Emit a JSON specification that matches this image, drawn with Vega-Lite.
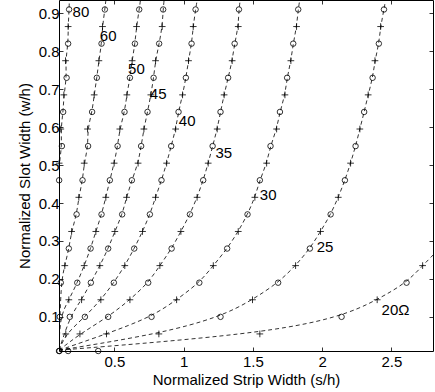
{
  "$schema": "https://vega.github.io/schema/vega-lite/v6.json",
  "width": 374,
  "height": 351,
  "autosize": "none",
  "padding": {"left": 59, "top": 0, "right": 2, "bottom": 41},
  "background": "white",
  "config": {
    "view": {"stroke": "#000", "strokeWidth": 1},
    "font": "Liberation Sans",
    "axis": {
      "domain": false,
      "grid": false,
      "tickColor": "#000",
      "tickSize": -4,
      "tickWidth": 0.8,
      "labelColor": "#000",
      "labelFontSize": 15,
      "labelFont": "Liberation Sans",
      "titleColor": "#000",
      "titleFontSize": 15,
      "titleFont": "Liberation Sans",
      "titleFontWeight": "normal"
    }
  },
  "datasets": {
    "pts": [
      {"c":"80","x":0.173,"y":0.91,"m":"o"},{"c":"80","x":0.166,"y":0.865,"m":"+"},{"c":"80","x":0.166,"y":0.82,"m":"o"},{"c":"80","x":0.147,"y":0.775,"m":"+"},{"c":"80","x":0.155,"y":0.73,"m":"o"},{"c":"80","x":0.135,"y":0.685,"m":"+"},{"c":"80","x":0.130,"y":0.64,"m":"o"},{"c":"80","x":0.113,"y":0.595,"m":"+"},{"c":"80","x":0.121,"y":0.55,"m":"o"},{"c":"80","x":0.101,"y":0.505,"m":"+"},{"c":"80","x":0.101,"y":0.46,"m":"o"},
      {"c":"60","x":0.431,"y":0.91,"m":"o"},{"c":"60","x":0.414,"y":0.865,"m":"+"},{"c":"60","x":0.407,"y":0.82,"m":"o"},{"c":"60","x":0.388,"y":0.775,"m":"+"},{"c":"60","x":0.373,"y":0.73,"m":"o"},{"c":"60","x":0.354,"y":0.685,"m":"+"},{"c":"60","x":0.339,"y":0.64,"m":"o"},{"c":"60","x":0.306,"y":0.595,"m":"+"},{"c":"60","x":0.310,"y":0.55,"m":"o"},{"c":"60","x":0.282,"y":0.505,"m":"+"},{"c":"60","x":0.270,"y":0.46,"m":"o"},{"c":"60","x":0.243,"y":0.415,"m":"+"},{"c":"60","x":0.227,"y":0.37,"m":"o"},{"c":"60","x":0.191,"y":0.325,"m":"+"},{"c":"60","x":0.171,"y":0.28,"m":"o"},{"c":"60","x":0.142,"y":0.235,"m":"+"},{"c":"60","x":0.113,"y":0.19,"m":"o"},
      {"c":"50","x":0.679,"y":0.91,"m":"o"},{"c":"50","x":0.660,"y":0.865,"m":"+"},{"c":"50","x":0.648,"y":0.82,"m":"o"},{"c":"50","x":0.628,"y":0.775,"m":"+"},{"c":"50","x":0.612,"y":0.73,"m":"o"},{"c":"50","x":0.590,"y":0.685,"m":"+"},{"c":"50","x":0.573,"y":0.64,"m":"o"},{"c":"50","x":0.539,"y":0.595,"m":"+"},{"c":"50","x":0.523,"y":0.55,"m":"o"},{"c":"50","x":0.498,"y":0.505,"m":"+"},{"c":"50","x":0.467,"y":0.46,"m":"o"},{"c":"50","x":0.438,"y":0.415,"m":"+"},{"c":"50","x":0.407,"y":0.37,"m":"o"},{"c":"50","x":0.366,"y":0.325,"m":"+"},{"c":"50","x":0.328,"y":0.28,"m":"o"},{"c":"50","x":0.282,"y":0.235,"m":"+"},{"c":"50","x":0.232,"y":0.19,"m":"o"},{"c":"50","x":0.171,"y":0.145,"m":"+"},{"c":"50","x":0.106,"y":0.1,"m":"o"},
      {"c":"45","x":0.852,"y":0.91,"m":"o"},{"c":"45","x":0.845,"y":0.865,"m":"+"},{"c":"45","x":0.823,"y":0.82,"m":"o"},{"c":"45","x":0.797,"y":0.775,"m":"+"},{"c":"45","x":0.783,"y":0.73,"m":"o"},{"c":"45","x":0.763,"y":0.685,"m":"+"},{"c":"45","x":0.739,"y":0.64,"m":"o"},{"c":"45","x":0.713,"y":0.595,"m":"+"},{"c":"45","x":0.693,"y":0.55,"m":"o"},{"c":"45","x":0.671,"y":0.505,"m":"+"},{"c":"45","x":0.626,"y":0.46,"m":"o"},{"c":"45","x":0.588,"y":0.415,"m":"+"},{"c":"45","x":0.556,"y":0.37,"m":"o"},{"c":"45","x":0.503,"y":0.325,"m":"+"},{"c":"45","x":0.455,"y":0.28,"m":"o"},{"c":"45","x":0.395,"y":0.235,"m":"+"},{"c":"45","x":0.330,"y":0.19,"m":"o"},{"c":"45","x":0.263,"y":0.145,"m":"+"},{"c":"45","x":0.178,"y":0.1,"m":"o"},
      {"c":"40","x":1.086,"y":0.91,"m":"o"},{"c":"40","x":1.069,"y":0.865,"m":"+"},{"c":"40","x":1.057,"y":0.82,"m":"o"},{"c":"40","x":1.035,"y":0.775,"m":"+"},{"c":"40","x":1.016,"y":0.73,"m":"o"},{"c":"40","x":0.992,"y":0.685,"m":"+"},{"c":"40","x":0.963,"y":0.64,"m":"o"},{"c":"40","x":0.942,"y":0.595,"m":"+"},{"c":"40","x":0.910,"y":0.55,"m":"o"},{"c":"40","x":0.877,"y":0.505,"m":"+"},{"c":"40","x":0.840,"y":0.46,"m":"o"},{"c":"40","x":0.797,"y":0.415,"m":"+"},{"c":"40","x":0.756,"y":0.37,"m":"o"},{"c":"40","x":0.703,"y":0.325,"m":"+"},{"c":"40","x":0.643,"y":0.28,"m":"o"},{"c":"40","x":0.575,"y":0.235,"m":"+"},{"c":"40","x":0.496,"y":0.19,"m":"o"},{"c":"40","x":0.402,"y":0.145,"m":"+"},{"c":"40","x":0.287,"y":0.1,"m":"o"},{"c":"40","x":0.149,"y":0.055,"m":"+"},
      {"c":"35","x":1.399,"y":0.91,"m":"o"},{"c":"35","x":1.394,"y":0.865,"m":"+"},{"c":"35","x":1.368,"y":0.82,"m":"o"},{"c":"35","x":1.350,"y":0.775,"m":"+"},{"c":"35","x":1.321,"y":0.73,"m":"o"},{"c":"35","x":1.292,"y":0.685,"m":"+"},{"c":"35","x":1.266,"y":0.64,"m":"o"},{"c":"35","x":1.242,"y":0.595,"m":"+"},{"c":"35","x":1.209,"y":0.55,"m":"o"},{"c":"35","x":1.177,"y":0.505,"m":"+"},{"c":"35","x":1.141,"y":0.46,"m":"o"},{"c":"35","x":1.097,"y":0.415,"m":"+"},{"c":"35","x":1.045,"y":0.37,"m":"o"},{"c":"35","x":0.980,"y":0.325,"m":"+"},{"c":"35","x":0.913,"y":0.28,"m":"o"},{"c":"35","x":0.828,"y":0.235,"m":"+"},{"c":"35","x":0.744,"y":0.19,"m":"o"},{"c":"35","x":0.612,"y":0.145,"m":"+"},{"c":"35","x":0.455,"y":0.1,"m":"o"},{"c":"35","x":0.251,"y":0.055,"m":"+"},
      {"c":"30","x":1.827,"y":0.91,"m":"o"},{"c":"30","x":1.815,"y":0.865,"m":"+"},{"c":"30","x":1.791,"y":0.82,"m":"o"},{"c":"30","x":1.774,"y":0.775,"m":"+"},{"c":"30","x":1.747,"y":0.73,"m":"o"},{"c":"30","x":1.731,"y":0.685,"m":"+"},{"c":"30","x":1.695,"y":0.64,"m":"o"},{"c":"30","x":1.671,"y":0.595,"m":"+"},{"c":"30","x":1.627,"y":0.55,"m":"o"},{"c":"30","x":1.599,"y":0.505,"m":"+"},{"c":"30","x":1.550,"y":0.46,"m":"o"},{"c":"30","x":1.514,"y":0.415,"m":"+"},{"c":"30","x":1.461,"y":0.37,"m":"o"},{"c":"30","x":1.394,"y":0.325,"m":"+"},{"c":"30","x":1.314,"y":0.28,"m":"o"},{"c":"30","x":1.214,"y":0.235,"m":"+"},{"c":"30","x":1.113,"y":0.19,"m":"o"},{"c":"30","x":0.949,"y":0.145,"m":"+"},{"c":"30","x":0.768,"y":0.1,"m":"o"},{"c":"30","x":0.443,"y":0.055,"m":"+"},
      {"c":"25","x":2.446,"y":0.91,"m":"o"},{"c":"25","x":2.422,"y":0.865,"m":"+"},{"c":"25","x":2.409,"y":0.82,"m":"o"},{"c":"25","x":2.381,"y":0.775,"m":"+"},{"c":"25","x":2.364,"y":0.73,"m":"o"},{"c":"25","x":2.332,"y":0.685,"m":"+"},{"c":"25","x":2.303,"y":0.64,"m":"o"},{"c":"25","x":2.272,"y":0.595,"m":"+"},{"c":"25","x":2.241,"y":0.55,"m":"o"},{"c":"25","x":2.205,"y":0.505,"m":"+"},{"c":"25","x":2.164,"y":0.46,"m":"o"},{"c":"25","x":2.116,"y":0.415,"m":"+"},{"c":"25","x":2.061,"y":0.37,"m":"o"},{"c":"25","x":1.988,"y":0.325,"m":"+"},{"c":"25","x":1.911,"y":0.28,"m":"o"},{"c":"25","x":1.808,"y":0.235,"m":"+"},{"c":"25","x":1.682,"y":0.19,"m":"o"},{"c":"25","x":1.497,"y":0.145,"m":"+"},{"c":"25","x":1.266,"y":0.1,"m":"o"},{"c":"25","x":0.821,"y":0.055,"m":"+"},
      {"c":"20","x":2.725,"y":0.235,"m":"+"},{"c":"20","x":2.609,"y":0.19,"m":"o"},{"c":"20","x":2.397,"y":0.145,"m":"+"},{"c":"20","x":2.140,"y":0.1,"m":"o"},{"c":"20","x":1.550,"y":0.055,"m":"+"},
      {"c":"base","x":0.1,"y":0.01,"m":"o"},{"c":"base","x":0.103,"y":0.01,"m":"o"},{"c":"base","x":0.166,"y":0.01,"m":"o"},{"c":"base","x":0.383,"y":0.01,"m":"o"},
      {"c":"80","x":0.1,"y":0.012,"m":"s"},{"c":"60","x":0.1,"y":0.012,"m":"s"},{"c":"50","x":0.1,"y":0.012,"m":"s"},{"c":"45","x":0.1,"y":0.012,"m":"s"},{"c":"40","x":0.1,"y":0.012,"m":"s"},{"c":"35","x":0.1,"y":0.012,"m":"s"},{"c":"30","x":0.1,"y":0.012,"m":"s"},{"c":"25","x":0.1,"y":0.012,"m":"s"},{"c":"20","x":0.1,"y":0.012,"m":"s"},
      {"c":"80","x":0.175,"y":0.94,"m":"s"},{"c":"60","x":0.44,"y":0.94,"m":"s"},{"c":"50","x":0.69,"y":0.94,"m":"s"},{"c":"45","x":0.86,"y":0.94,"m":"s"},{"c":"40","x":1.10,"y":0.94,"m":"s"},{"c":"35","x":1.41,"y":0.94,"m":"s"},{"c":"30","x":1.84,"y":0.94,"m":"s"},{"c":"25","x":2.46,"y":0.94,"m":"s"},{"c":"20","x":2.82,"y":0.27,"m":"s"}
    ],
    "labels": [
      {"t":"80","x":0.198,"y":0.9045},
      {"t":"60","x":0.395,"y":0.839},
      {"t":"50","x":0.599,"y":0.754},
      {"t":"45","x":0.756,"y":0.687},
      {"t":"40","x":0.965,"y":0.616},
      {"t":"35","x":1.230,"y":0.533},
      {"t":"30","x":1.550,"y":0.422},
      {"t":"25","x":1.960,"y":0.283},
      {"t":"20Ω","x":2.429,"y":0.118}
    ]
  },
  "layer": [
    {
      "data": {"name": "pts"},
      "transform": [{"filter": "datum.c != 'base'"}],
      "mark": {"type": "line", "interpolate": "basis", "clip": true, "color": "#000", "strokeWidth": 0.8, "strokeDash": [4, 3]},
      "encoding": {
        "x": {"field": "x", "type": "quantitative", "scale": {"domain": [0.1, 2.8], "nice": false, "zero": false},
              "axis": {"orient": "bottom", "values": [0.5, 1, 1.5, 2, 2.5], "format": "~g", "labelPadding": 7, "title": "Normalized Strip Width (s/h)", "titlePadding": 3}},
        "y": {"field": "y", "type": "quantitative", "scale": {"domain": [0.01, 0.935], "nice": false, "zero": false},
              "axis": {"orient": "left", "values": [0.1, 0.2, 0.3, 0.4, 0.5, 0.6, 0.7, 0.8, 0.9], "format": "~g", "labelPadding": 4, "title": "Normalized Slot Width (w/h)", "titlePadding": 6}},
        "detail": {"field": "c"},
        "order": {"field": "y", "type": "quantitative"}
      }
    },
    {
      "data": {"name": "pts"},
      "transform": [{"filter": "datum.m == 'o'"}],
      "mark": {"type": "point", "shape": "circle", "size": 30, "filled": false, "stroke": "#000", "strokeWidth": 0.8, "opacity": 1},
      "encoding": {
        "x": {"field": "x", "type": "quantitative", "axis": null},
        "y": {"field": "y", "type": "quantitative", "axis": null}
      }
    },
    {
      "data": {"name": "pts"},
      "transform": [{"filter": "datum.m == '+'"}],
      "mark": {"type": "point", "shape": "M-1,0L1,0M0,-1L0,1", "size": 45, "filled": false, "stroke": "#000", "strokeWidth": 0.8, "opacity": 1},
      "encoding": {
        "x": {"field": "x", "type": "quantitative", "axis": null},
        "y": {"field": "y", "type": "quantitative", "axis": null}
      }
    },
    {
      "data": {"name": "labels"},
      "mark": {"type": "text", "align": "left", "baseline": "middle", "fontSize": 15, "font": "Liberation Sans", "color": "#000"},
      "encoding": {
        "x": {"field": "x", "type": "quantitative", "axis": {"orient": "top", "values": [0.5, 1, 1.5, 2, 2.5], "labels": false, "title": null}},
        "y": {"field": "y", "type": "quantitative", "axis": {"orient": "right", "values": [0.1, 0.2, 0.3, 0.4, 0.5, 0.6, 0.7, 0.8, 0.9], "labels": false, "title": null}},
        "text": {"field": "t"}
      }
    }
  ],
  "resolve": {"axis": {"x": "independent", "y": "independent"}}
}
